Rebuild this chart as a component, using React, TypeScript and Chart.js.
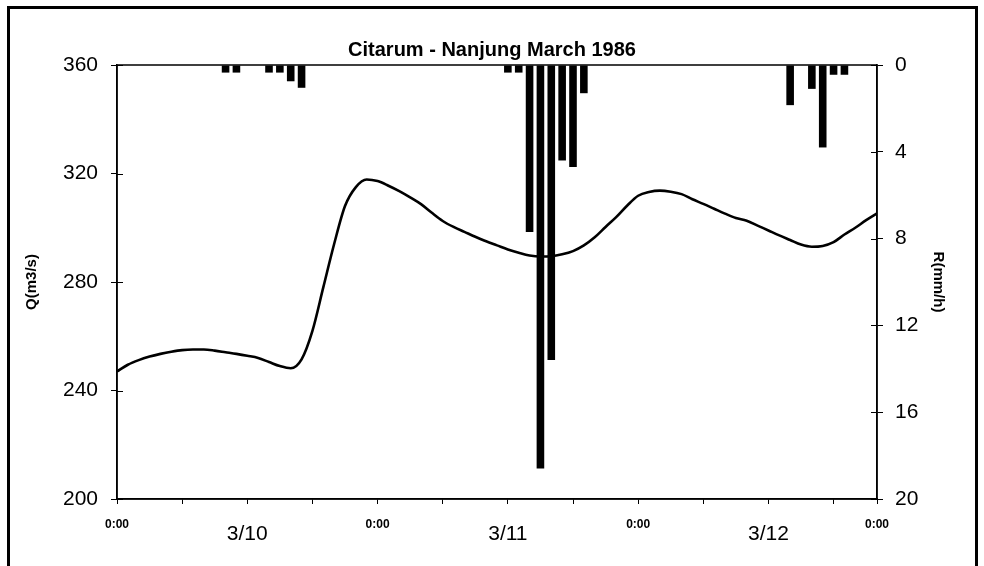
import { useEffect, useRef } from 'react';
import { Chart, registerables } from 'chart.js';

Chart.register(...registerables);

const FONT = "'Liberation Sans', Arial, Helvetica, sans-serif";

// Hours since 3/10 0:00
const flowHours = [
  0, 1, 2, 3, 4, 5, 6, 7, 8, 9, 10, 11, 12, 13, 14, 15, 16, 17, 18, 19, 20,
  21, 22, 23, 24, 25, 26, 27, 28, 29, 30, 31, 32, 33, 34, 35, 36, 37, 38, 39,
  40, 41, 42, 43, 44, 45, 46, 47, 48, 49, 50, 51, 52, 53, 54, 55, 56, 57, 58,
  59, 60, 61, 62, 63, 64, 65, 66, 67, 68, 69, 70,
];
// Discharge Q (m3/s)
const flowValues = [
  247, 249.5, 251.2, 252.5, 253.5, 254.3, 254.9, 255.1, 255.1, 254.7, 254.1,
  253.5, 252.8, 252, 250.5, 249, 248.2, 251.5, 262, 278, 294,
  308, 315, 317.8, 317.2, 315.5, 313.5, 311.2, 308.7, 305.5, 302.5,
  300.3, 298.5, 296.7, 295, 293.5, 292, 290.8, 289.8, 289.4, 289.5,
  290.2, 291.4, 293.5, 296.5, 300.3, 304, 308.2, 311.8, 313.2, 313.7,
  313.3, 312.4, 310.5, 308.8, 307, 305.2, 303.6, 302.6, 300.8, 299,
  297.2, 295.5, 293.8, 293, 293.3, 294.7, 297.5, 300, 302.8, 305.3,
];

// Rainfall R (mm/h)
const rainHours = [10, 11, 14, 15, 16, 17, 36, 37, 38, 39, 40, 41, 42, 43, 62, 64, 65, 66, 67];
const rainValues = [0.35, 0.35, 0.35, 0.35, 0.75, 1.05, 0.35, 0.35, 7.7, 18.6, 13.6, 4.4, 4.7, 1.3, 1.85, 1.1, 3.8, 0.45, 0.45];

const xTickHours = [0, 6, 12, 18, 24, 30, 36, 42, 48, 54, 60, 66, 70];
const timeTickHours = [0, 24, 48, 70];
const timeTickLabel = '0:00';
const dateTickHours = [12, 36, 60];
const dateTickLabels = ['3/10', '3/11', '3/12'];
const qTicks = [200, 240, 280, 320, 360];
const rTicks = [0, 4, 8, 12, 16, 20];

const TITLE = 'Citarum - Nanjung March 1986';

const framePlugin = {
  id: 'frame',
  afterDraw(chart: any) {
    const ctx = chart.ctx;
    const a = chart.chartArea;
    ctx.save();
    ctx.strokeStyle = '#000';
    ctx.lineWidth = 1.5;
    ctx.strokeRect(a.left, a.top, a.right - a.left, a.bottom - a.top);
    ctx.lineWidth = 1;
    const yl = chart.scales.y;
    const yr = chart.scales.yR;
    ctx.beginPath();
    yl.ticks.forEach((t: any) => {
      const p = Math.round(yl.getPixelForValue(t.value)) + 0.5;
      ctx.moveTo(a.left, p);
      ctx.lineTo(a.left + 6, p);
    });
    yr.ticks.forEach((t: any) => {
      const p = Math.round(yr.getPixelForValue(t.value)) + 0.5;
      ctx.moveTo(a.right - 6, p);
      ctx.lineTo(a.right, p);
    });
    ctx.stroke();
    ctx.lineWidth = 3;
    ctx.strokeRect(8.5, 7.5, 968, 640);
    ctx.restore();
  },
};

export default function App() {
  const canvasRef = useRef<HTMLCanvasElement | null>(null);

  useEffect(() => {
    const canvas = canvasRef.current;
    if (!canvas) return;
    Chart.defaults.color = '#000';
    Chart.defaults.font.family = FONT;

    const chart = new Chart(canvas, {
      type: 'bar',
      data: {
        datasets: [
          {
            type: 'line',
            label: 'Q',
            data: flowHours.map((h, i) => ({ x: h, y: flowValues[i] })),
            xAxisID: 'x',
            yAxisID: 'y',
            borderColor: '#000',
            borderWidth: 2.6,
            pointRadius: 0,
            tension: 0.4,
            cubicInterpolationMode: 'monotone',
            fill: false,
            order: 0,
          } as any,
          {
            type: 'bar',
            label: 'R',
            data: rainHours.map((h, i) => ({ x: h, y: rainValues[i] })),
            xAxisID: 'x',
            yAxisID: 'yR',
            backgroundColor: '#000',
            borderWidth: 0,
            barPercentage: 0.7,
            categoryPercentage: 1,
            order: 1,
          } as any,
        ],
      },
      options: {
        responsive: false,
        animation: false,
        devicePixelRatio: 1,
        layout: { padding: 0 },
        plugins: {
          legend: { display: false },
          tooltip: { enabled: false },
          title: {
            display: true,
            text: TITLE,
            color: '#000',
            font: { family: FONT, size: 20, weight: 'bold', lineHeight: 1.2 },
            padding: { top: 38, bottom: 3 },
          },
        },
        scales: {
          x: {
            type: 'linear',
            position: 'bottom',
            offset: false,
            min: 0,
            max: 70,
            afterFit: (s: any) => {
              s.height = 67;
            },
            afterBuildTicks: (s: any) => {
              s.ticks = xTickHours.map((v) => ({ value: v }));
            },
            grid: {
              offset: false,
              drawOnChartArea: false,
              drawTicks: true,
              tickLength: 5,
              color: '#000',
              lineWidth: 1,
            },
            border: { display: true, color: '#000', width: 1.5 },
            ticks: {
              autoSkip: false,
              maxRotation: 0,
              minRotation: 0,
              padding: 13,
              color: '#000',
              callback: (value: any) => {
                const v = Number(value);
                if (timeTickHours.includes(v)) return timeTickLabel;
                const di = dateTickHours.indexOf(v);
                if (di >= 0) return dateTickLabels[di];
                return '';
              },
              font: (ctx: any) => {
                const v = ctx.tick ? ctx.tick.value : 0;
                if (dateTickHours.includes(v)) {
                  return { family: FONT, size: 21, lineHeight: 34 / 21 };
                }
                return { family: FONT, size: 12, weight: 'bold', lineHeight: 1.2 };
              },
            },
          },
          y: {
            type: 'linear',
            position: 'left',
            min: 200,
            max: 360,
            afterFit: (s: any) => {
              s.width = 117;
            },
            afterBuildTicks: (s: any) => {
              s.ticks = qTicks.map((v) => ({ value: v }));
            },
            grid: {
              drawOnChartArea: false,
              drawTicks: true,
              tickLength: 6,
              color: '#000',
              lineWidth: 1,
            },
            border: { display: true, color: '#000', width: 1.5 },
            ticks: {
              padding: 13,
              color: '#000',
              font: { family: FONT, size: 21 },
            },
            title: {
              display: true,
              text: 'Q(m3/s)',
              color: '#000',
              font: { family: FONT, size: 15, weight: 'bold', lineHeight: 1.2 },
              padding: { top: 23, bottom: 0 },
            },
          },
          yR: {
            type: 'linear',
            position: 'right',
            min: 0,
            max: 20,
            reverse: true,
            afterFit: (s: any) => {
              s.width = 107;
            },
            afterBuildTicks: (s: any) => {
              s.ticks = rTicks.map((v) => ({ value: v }));
            },
            grid: {
              drawOnChartArea: false,
              drawTicks: true,
              tickLength: 6,
              color: '#000',
              lineWidth: 1,
            },
            border: { display: true, color: '#000', width: 1.5 },
            ticks: {
              padding: 12,
              color: '#000',
              font: { family: FONT, size: 21 },
            },
            title: {
              display: true,
              text: 'R(mm/h)',
              color: '#000',
              font: { family: FONT, size: 15, weight: 'bold', lineHeight: 1.2 },
              padding: { top: 37, bottom: 0 },
            },
          },
        },
      } as any,
      plugins: [framePlugin],
    });

    return () => {
      chart.destroy();
    };
  }, []);

  return (
    <div style={{ position: 'fixed', left: 0, top: 0, width: 984, height: 566, background: '#fff' }}>
      <canvas ref={canvasRef} width={984} height={566} style={{ display: 'block', width: 984, height: 566 }} />
    </div>
  );
}
